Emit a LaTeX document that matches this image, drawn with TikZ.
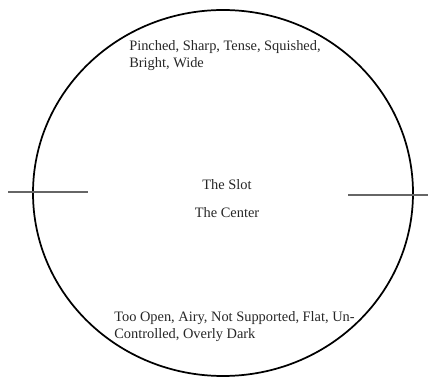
\documentclass[tikz,border=0pt]{standalone}
\usepackage{fontspec}
\setmainfont{Liberation Serif}
\begin{document}
\begin{tikzpicture}[x=0.75pt, y=-0.75pt,
        label text/.style={anchor=north west, inner sep=0pt, align=left, text=black!85,
            font=\fontsize{10.8}{12.75}\selectfont},
        center text/.style={inner sep=0pt, text=black!85, font=\fontsize{10.8}{12.75}\selectfont}]
        \useasboundingbox (0, 0) rectangle (428, 377);

        % Outer circle
        \draw[line width=1.3pt] (223, 193) ellipse [x radius=190, y radius=183];

        % Side marks
        \coordinate (leftA) at (8, 192);
        \coordinate (leftB) at (88, 192);
        \coordinate (rightA) at (348, 195);
        \coordinate (rightB) at (428, 195);
        \draw[black!60, line width=0.8pt] (leftA) -- (leftB);
        \draw[black!60, line width=0.8pt] (rightA) -- (rightB);

        % Texts
        \node[label text] (top) at (129, 40) {Pinched, Sharp, Tense, Squished,\\Bright, Wide};
        \node[center text] (slot) at (227, 185) {The Slot};
        \node[center text] (center) at (227, 213) {The Center};
        \node[label text] (bottom) at (114, 311) {Too Open, Airy, Not Supported, Flat, Un-\\Controlled, Overly Dark};
    \end{tikzpicture}
\end{document}
